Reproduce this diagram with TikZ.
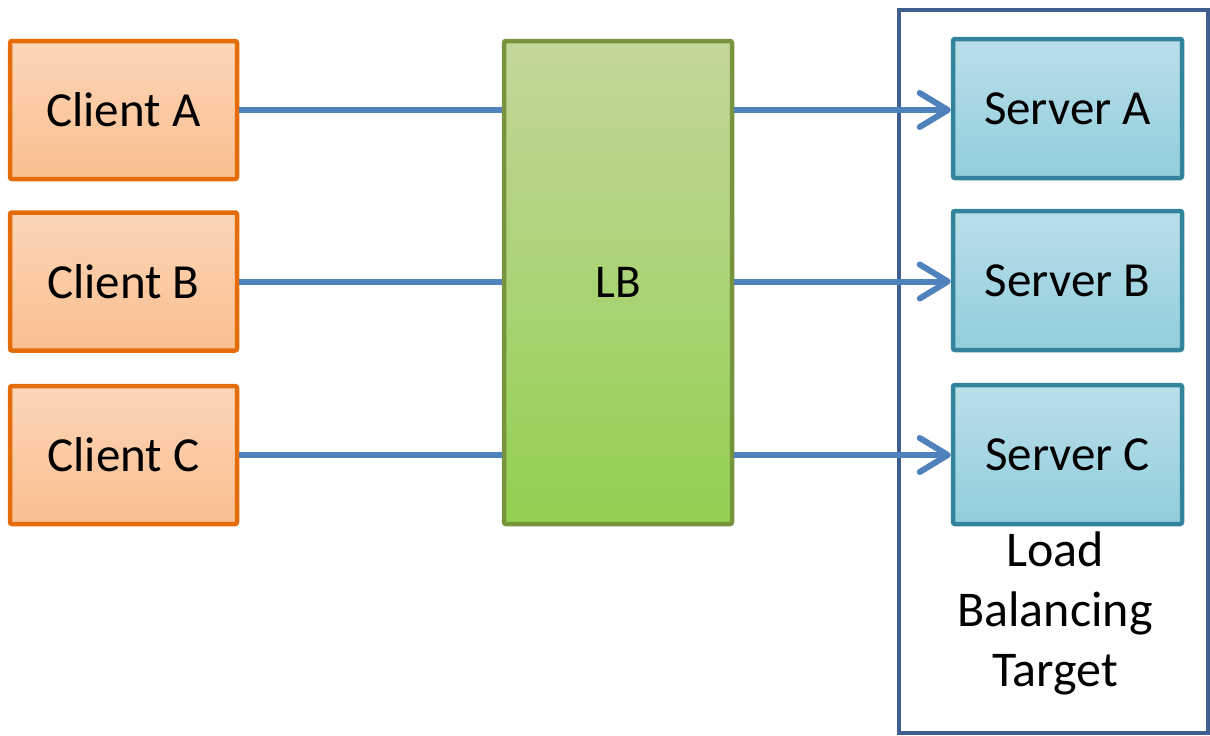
\documentclass[tikz,border=0pt]{standalone}
\usepackage{fontspec}
\setmainfont{Carlito}
\usetikzlibrary{arrows.meta}
\definecolor{orbord}{HTML}{E46C0A}
\definecolor{ortop}{HTML}{FCD6B8}
\definecolor{orbot}{HTML}{F9BE8F}
\definecolor{grbord}{HTML}{77933C}
\definecolor{grtop}{HTML}{C3D69B}
\definecolor{grbot}{HTML}{92D050}
\definecolor{svbord}{HTML}{31849B}
\definecolor{svtop}{HTML}{B9DFE9}
\definecolor{svbot}{HTML}{92CDDC}
\definecolor{linkblue}{HTML}{4F81BD}
\definecolor{outerblue}{HTML}{3F5F8F}
\tikzset{
  client/.style={draw=orbord, line width=4.5pt, top color=ortop, bottom color=orbot,
    minimum width=227pt, minimum height=138pt, rounded corners=2pt, inner sep=0pt,
    font=\fontsize{49}{60}\selectfont},
  server/.style={draw=svbord, line width=4.5pt, top color=svtop, bottom color=svbot,
    minimum width=229pt, minimum height=139pt, rounded corners=2pt, inner sep=0pt,
    font=\fontsize{49}{60}\selectfont},
  lbbox/.style={draw=grbord, line width=4.5pt, top color=grtop, bottom color=grbot,
    minimum width=228pt, minimum height=483pt, rounded corners=2pt, inner sep=0pt,
    font=\fontsize{47}{56}\selectfont},
  link/.style={draw=linkblue, line width=6pt},
  arrowlink/.style={link, -{Straight Barb[length=28pt, width=34pt, line cap=round, line join=round]}},
}
\begin{document}
\begin{tikzpicture}[x=1pt,y=-1pt]
\useasboundingbox (0,0) rectangle (1210,736);
\draw[outerblue, line width=3.5pt] (899,10) rectangle (1208,733);
\node[client] (ca) at (123.5,110) {Client A};
\node[client] (cb) at (123.5,281.5) {Client B};
\node[client] (cc) at (123.5,455) {Client C};
\node[lbbox] (lb) at (618,282.5) {LB};
\node[server] (sa) at (1067.5,108.5) {Server A};
\node[server] (sb) at (1067.5,280.5) {Server B};
\node[server] (sc) at (1067.5,454.5) {Server C};
\node[font=\fontsize{50}{60}\selectfont, align=center, inner sep=0pt] (lbt) at (1055,613) {Load\\Balancing\\Target};
\draw[link] (ca.east) -- (lb.west |- ca.east);
\draw[link] (cb.east) -- (lb.west |- cb.east);
\draw[link] (cc.east) -- (lb.west |- cc.east);
\draw[arrowlink] (lb.east |- ca.east) -- (sa.west |- ca.east);
\draw[arrowlink] (lb.east |- cb.east) -- (sb.west |- cb.east);
\draw[arrowlink] (lb.east |- cc.east) -- (sc.west |- cc.east);
\end{tikzpicture}
\end{document}
